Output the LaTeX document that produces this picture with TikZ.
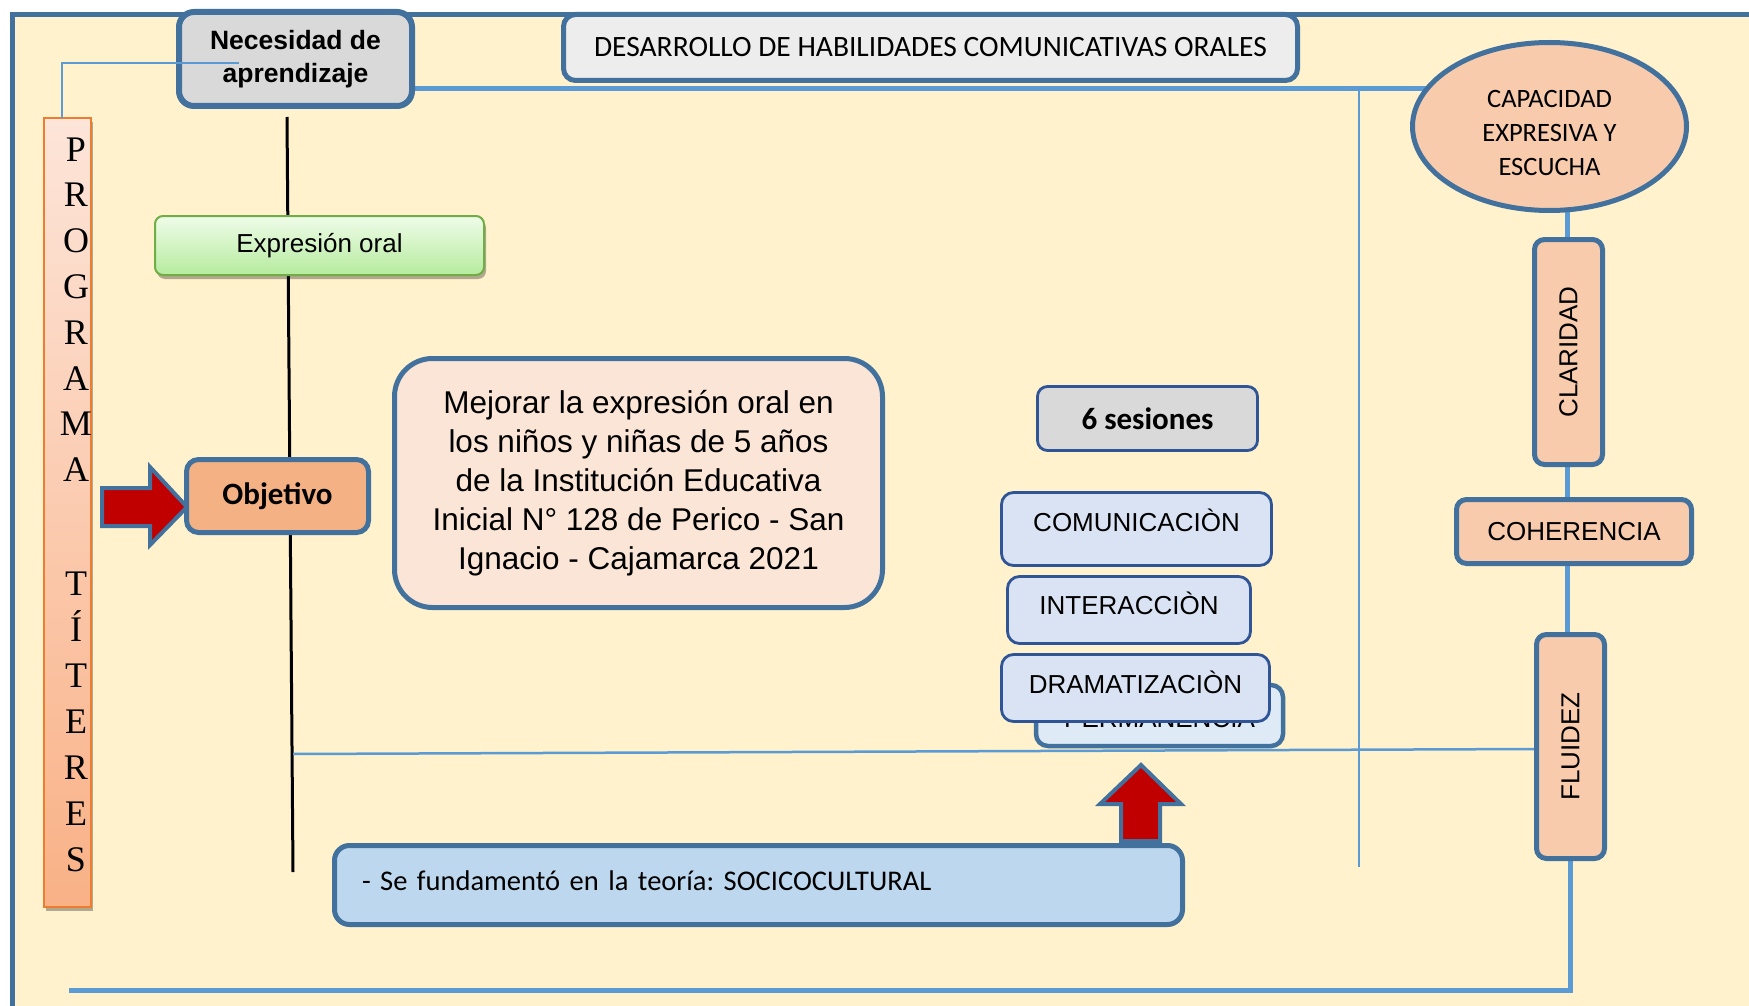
\documentclass[tikz,border=0pt]{standalone}
\usepackage{fontspec}
\setmainfont{Liberation Sans}
\newfontfamily\calfont{Carlito}
\newfontfamily\tmsfont{Liberation Serif}
\usetikzlibrary{shapes.geometric,shadows,backgrounds}
\definecolor{frameblue}{HTML}{41719C}
\definecolor{linkblue}{HTML}{5B9BD5}
\definecolor{darkedge}{HTML}{2F5597}
\definecolor{cream}{HTML}{FFF2CC}
\definecolor{greyfill}{HTML}{D9D9D9}
\definecolor{lightgrey}{HTML}{EDEDED}
\definecolor{objfill}{HTML}{F4B183}
\definecolor{peach}{HTML}{F8CBAD}
\definecolor{mejfill}{HTML}{FBE5D6}
\definecolor{paleblue}{HTML}{DAE3F3}
\definecolor{paleblueb}{HTML}{DEEBF7}
\definecolor{funfill}{HTML}{BDD7EE}
\definecolor{arrowred}{HTML}{C00000}
\definecolor{stripedge}{HTML}{ED7D31}
\definecolor{striptop}{HTML}{FDE5D9}
\definecolor{stripbot}{HTML}{F9B186}
\definecolor{greentop}{HTML}{EFFCE9}
\definecolor{greenbot}{HTML}{B6EB9E}
\definecolor{greenedge}{HTML}{70AD47}
\newcommand\fsz[2]{\fontsize{#1}{#2}\selectfont}
\frenchspacing
\begin{document}
\begin{tikzpicture}[x=1pt,y=-1pt,
  every node/.style={inner sep=0pt,outer sep=0pt,align=center,text=black},
  blk/.style={draw=frameblue,line width=5pt,rounded corners=12pt},
  sesbox/.style={draw=darkedge,line width=2.8pt,rounded corners=12pt,fill=paleblue,font=\fsz{26}{30}},
  conn/.style={draw=linkblue,line width=5pt},
  thinconn/.style={draw=linkblue,line width=2.2pt},
  redarrow/.style={fill=arrowred,draw=frameblue,line width=4pt,line join=miter},
  letter/.style={anchor=base,font=\tmsfont\fsz{36}{40}},
  softshadow/.style={drop shadow={shadow xshift=2pt,shadow yshift=-4pt,opacity=0.3,fill=black}}
]
\useasboundingbox (0,0) rectangle (1749,1006);

% named free ends of connectors
\coordinate (hy) at (0,89);
\coordinate (vx) at (1567,0);
\coordinate (vt) at (1359,89);
\coordinate (vb) at (1359,867);
\coordinate (bt) at (287,117);
\coordinate (bb) at (293,872);
\coordinate (hs) at (293,754);
\coordinate (bl) at (69,990);
\coordinate (necin) at (239,63);

% nodes
\node[blk,fill=greyfill,rounded corners=15pt,line width=6pt,minimum width=233pt,minimum height=94pt,font=\bfseries\fsz{26.5}{33}] (nec) at (295.5,59) {Necesidad de\\aprendizaje};

\node[blk,fill=lightgrey,minimum width=734pt,minimum height=66pt,font=\calfont\fsz{29.5}{34}] (des) at (930.5,47.5) {DESARROLLO DE HABILIDADES COMUNICATIVAS ORALES};

\node[draw=stripedge,line width=2pt,top color=striptop,bottom color=stripbot,minimum width=47pt,minimum height=789pt,softshadow] (prog) at (67.5,512.5) {};

\foreach \ch/\yy [count=\i] in {P/148,R/194,O/239,G/285,R/331,A/377,M/422,A/468,T/582,Í/628,T/674,E/720,R/766,E/812,S/858}
  \node[letter] (lt\i) at (76,\yy+13) {\ch};

\node[draw=greenedge,line width=2pt,rounded corners=8pt,top color=greentop,bottom color=greenbot,minimum width=329pt,minimum height=59pt,font=\fsz{26}{30},softshadow] (exp) at (319.5,245.5) {Expresión oral};

\draw[redarrow] (102,488) -- (150,488) -- (150,467) -- (187,507) -- (150,545) -- (150,526) -- (102,526) -- cycle;

\node[blk,fill=objfill,minimum width=182pt,minimum height=73pt,font=\calfont\bfseries\fsz{31}{36}] (obj) at (277.5,496) {Objetivo};

\node[blk,fill=mejfill,rounded corners=38pt,minimum width=488pt,minimum height=249pt,font=\fsz{31.5}{39}] (mej) at (638.5,483) {Mejorar la expresión oral en\\los niños y niñas de 5 años\\de la Institución Educativa\\Inicial N° 128 de Perico - San\\Ignacio - Cajamarca 2021};

\node[ellipse,draw=frameblue,line width=5pt,fill=peach,minimum width=274pt,minimum height=168pt,font=\calfont\fsz{26.5}{34}] (cap) at (1549.5,126.5) {\rule{0pt}{30pt}CAPACIDAD\\EXPRESIVA Y\\ESCUCHA};

\node[blk,fill=peach,rounded corners=10pt,minimum width=68pt,minimum height=225pt,font=\fsz{26}{30}] (cla) at (1568.5,352) {\rotatebox{90}{CLARIDAD}};
\node[blk,fill=peach,rounded corners=10pt,minimum width=235pt,minimum height=64pt,font=\fsz{26}{30}] (coh) at (1574,531.5) {COHERENCIA};
\node[blk,fill=peach,rounded corners=10pt,minimum width=68pt,minimum height=224pt,font=\fsz{26}{30}] (flu) at (1570.5,746.5) {\rotatebox{90}{FLUIDEZ}};

\node[draw=darkedge,line width=2.8pt,rounded corners=10pt,fill=greyfill,minimum width=220pt,minimum height=64pt,font=\calfont\bfseries\fsz{31}{36}] (ses) at (1147.5,418.5) {6 sesiones};

\node[sesbox,minimum width=270pt,minimum height=73pt,text height=18pt,text depth=14pt] (com) at (1136.5,529) {COMUNICACIÒN};
\node[sesbox,minimum width=243pt,minimum height=67pt,text height=18pt,text depth=10pt] (int) at (1129,610) {INTERACCIÒN};
\node[sesbox,draw=frameblue,line width=4.5pt,fill=paleblueb,minimum width=247pt,minimum height=61pt,text height=23pt,text depth=0pt] (per) at (1159.5,715.5) {PERMANENCIA};
\node[sesbox,minimum width=268pt,minimum height=67pt,text height=18pt,text depth=8pt] (dra) at (1135.5,688) {DRAMATIZACIÒN};

\draw[redarrow] (1121,841) -- (1121,804) -- (1100,804) -- (1141,765) -- (1181,804) -- (1160,804) -- (1160,841) -- cycle;

\node[blk,fill=funfill,rounded corners=15pt,minimum width=848pt,minimum height=79pt,text width=793pt,align=left,text height=20pt,text depth=9pt,font=\calfont\fsz{28.5}{34}] (fun) at (758.5,885) {- Se fundamentó en la teoría: SOCICOCULTURAL};

% thin link over the Necesidad box
\draw[thinconn] (necin) -| ([xshift=-5.5pt]prog.north);

% background: frame and connectors
\begin{scope}[on background layer]
  \fill[white] (0,0) rectangle (1749,1006);
  \fill[cream] (12,15) rectangle (1749,1006);
  \draw[frameblue,line width=5pt] (12,1006) -- (12,15) -- (1749,15);
  \draw[conn] (nec.east |- hy) -- (cap.center |- hy);
  \draw[thinconn] (vt) -- (vb);
  \draw[black,line width=3pt] (bt) -- (bb);
  \draw[thinconn,line width=2.5pt] (hs) -- ([yshift=-2.5pt]flu.west);
  \draw[conn] (cap.center -| vx) -- (cla.north -| vx);
  \draw[conn] (cla.south -| vx) -- (coh.north -| vx);
  \draw[conn] (coh.south -| vx) -- (flu.north -| vx);
  \draw[conn] (flu.south) -- (flu.south |- bl) -- (bl);
\end{scope}
\end{tikzpicture}
\end{document}
